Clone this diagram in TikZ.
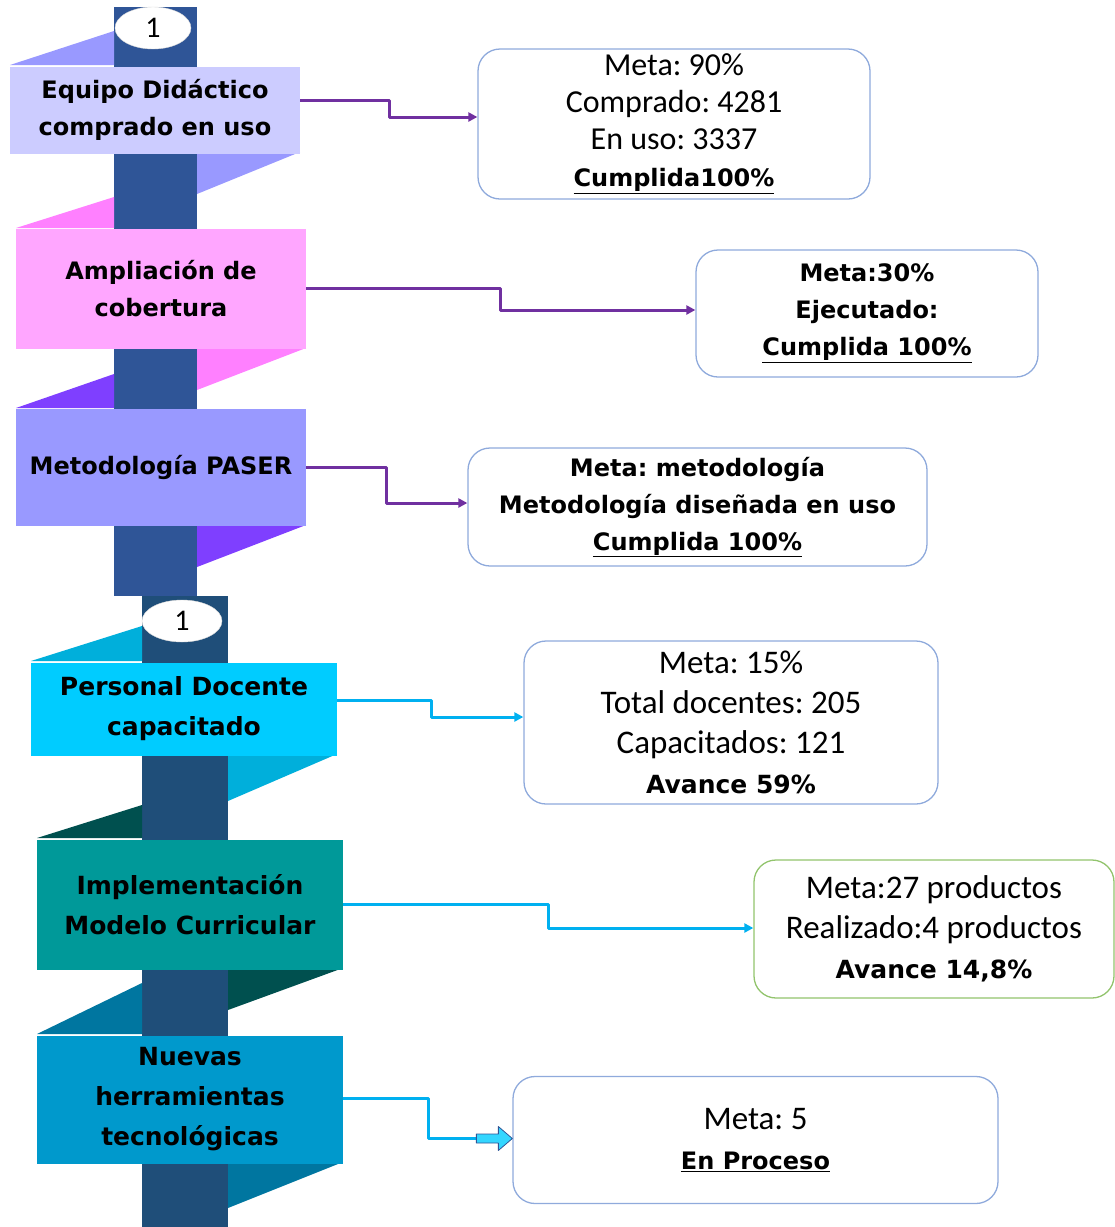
\documentclass[tikz,border=0pt]{standalone}
\usepackage{fontspec}
\setmainfont{Carlito}
\newfontfamily\vfont{DejaVu Sans}
\usetikzlibrary{shapes.geometric,arrows.meta}
\definecolor{pole1}{HTML}{2F5597}
\definecolor{pole2}{HTML}{1F4E79}
\definecolor{lav}{HTML}{CCCCFF}
\definecolor{lavfold}{HTML}{9999FF}
\definecolor{pinkbox}{HTML}{FFA6FF}
\definecolor{pinkfold}{HTML}{FF80FF}
\definecolor{peri}{HTML}{9999FF}
\definecolor{perifold}{HTML}{7F3FFF}
\definecolor{cyanbox}{HTML}{00CCFF}
\definecolor{cyanfold}{HTML}{00AFDB}
\definecolor{tealbox}{HTML}{009999}
\definecolor{tealfold}{HTML}{00504F}
\definecolor{oceanbox}{HTML}{0099CC}
\definecolor{oceanfold}{HTML}{0076A0}
\definecolor{infoline}{HTML}{8FAADC}
\definecolor{infogreen}{HTML}{92C46D}
\definecolor{linkpurple}{HTML}{7030A0}
\definecolor{linkcyan}{HTML}{00B0F0}
\newcommand\bt[2][24]{{\vfont\bfseries\fontsize{#1}{37}\selectfont #2}}
\frenchspacing
\begin{document}
\begin{tikzpicture}[x=1pt,y=-1pt,line join=round,>={Triangle[length=9pt,width=9pt]}]
		\tikzset{tag/.style={rectangle,inner sep=0pt,align=center,font=\vfont\bfseries\fontsize{24}{37}\selectfont},
			tagb/.style={tag,font=\vfont\bfseries\fontsize{25}{40}\selectfont},
			info/.style={rectangle,rounded corners=22pt,draw=infoline,line width=1.3pt,fill=white,align=center,inner sep=0pt,font=\fontsize{32}{37}\selectfont},
			infob/.style={info,font=\fontsize{33}{40}\selectfont},
			num/.style={ellipse,fill=white,draw=black!15,minimum width=76pt,minimum height=42pt,inner sep=0pt,font=\fontsize{30}{30}\selectfont},
			linkP/.style={->,draw=linkpurple,line width=3pt},
			linkC/.style={draw=linkcyan,line width=3pt}}
		\useasboundingbox (0,0) rectangle (1115,1227);
		% first column
		\fill[pole1] (114,7) rectangle (197,596);
		\fill[lavfold] (10,65)--(114,31)--(114,65)--cycle;
		\fill[lavfold] (197,152)--(300,152)--(197,194)--cycle;
		\fill[pinkfold] (16,228)--(114,197)--(114,228)--cycle;
		\fill[pinkfold] (197,348)--(306,348)--(197,390)--cycle;
		\fill[perifold] (16,408)--(114,374)--(114,408)--cycle;
		\fill[perifold] (197,525)--(306,525)--(197,567)--cycle;
		\node[tag,fill=lav,minimum width=290pt,minimum height=87pt] (equipo) at (155,110) {Equipo Didáctico\\comprado en uso};
		\node[tag,fill=pinkbox,minimum width=290pt,minimum height=120pt] (ampl) at (161,289) {Ampliación de\\cobertura};
		\node[tag,fill=peri,minimum width=290pt,minimum height=117pt] (paser) at (161,467.5) {Metodología PASER};
		\node[num] (num1) at (153,28) {1};
		% second column
		\fill[pole2] (142,596) rectangle (228,1227);
		\fill[cyanfold] (31,661)--(142,626)--(142,661)--cycle;
		\fill[cyanfold] (228,754)--(337,754)--(228,801)--cycle;
		\fill[tealfold] (37,838)--(142,805)--(142,838)--cycle;
		\fill[tealfold] (228,968)--(343,968)--(228,1010)--cycle;
		\fill[oceanfold] (37,1034)--(142,983)--(142,1034)--cycle;
		\fill[oceanfold] (228,1162)--(343,1162)--(228,1208)--cycle;
		\node[tagb,fill=cyanbox,minimum width=306pt,minimum height=93pt] (docente) at (184,709) {Personal Docente\\capacitado};
		\node[tagb,fill=tealbox,minimum width=306pt,minimum height=130pt] (modelo) at (190,904.5) {Implementación\\Modelo Curricular};
		\node[tagb,fill=oceanbox,minimum width=306pt,minimum height=128pt] (herram) at (190,1099.5) {Nuevas\\herramientas\\tecnológicas};
		\node[num,minimum width=80pt] (num2) at (182,621) {1};
		% results
		\node[info,minimum width=392pt,minimum height=150pt] (res1) at (674,124) {Meta: 90\%\\Comprado: 4281\\En uso: 3337\\\bt{\underline{Cumplida100\%}}};
		\node[info,minimum width=342pt,minimum height=127pt] (res2) at (867,313.5) {\bt{Meta:30\%}\\\bt{Ejecutado:}\\\bt{\underline{Cumplida 100\%}}};
		\node[info,minimum width=459pt,minimum height=118pt] (res3) at (697.5,507) {\bt{Meta: metodología}\\\bt{Metodología diseñada en uso}\\\bt{\underline{Cumplida 100\%}}};
		\node[infob,minimum width=414pt,minimum height=163pt] (res4) at (731,722.5) {Meta: 15\%\\Total docentes: 205\\Capacitados: 121\\\bt[25]{Avance 59\%}};
		\node[infob,draw=infogreen,minimum width=360pt,minimum height=138pt] (res5) at (934,929) {Meta:27 productos\\Realizado:4 productos\\\bt[25]{Avance 14,8\%}};
		\node[infob,minimum width=485pt,minimum height=127pt] (res6) at (755.5,1140) {Meta: 5\\\bt{\underline{En Proceso}}};
		% links
		\draw[linkP] ([yshift=10pt]equipo.east) -- ++(89,0) |- ([yshift=7pt]res1.west);
		\draw[linkP] ([yshift=1pt]ampl.east) -- ++(194,0) |- ([yshift=3.5pt]res2.west);
		\draw[linkP] ([yshift=0.5pt]paser.east) -- ++(80,0) |- ([yshift=4pt]res3.west);
		\draw[linkC,->] ([yshift=9pt]docente.east) -- ++(94,0) |- ([yshift=5.5pt]res4.west);
		\draw[linkC,->] ([yshift=0.5pt]modelo.east) -- ++(205,0) |- ([yshift=1pt]res5.west);
		\draw[linkC] ([yshift=1.5pt]herram.east) -- ++(85,0) |- ([xshift=-35pt,yshift=1.5pt]res6.west);
		\draw[fill=cyanbox!80,draw=pole1,line width=0.8pt] ([yshift=1.5pt]res6.west) -- ++(-14,12) -- ++(0,-7.5) -- ++(-22,0) -- ++(0,-9) -- ++(22,0) -- ++(0,-7.5) -- cycle;
		
		\end{tikzpicture}
\end{document}
